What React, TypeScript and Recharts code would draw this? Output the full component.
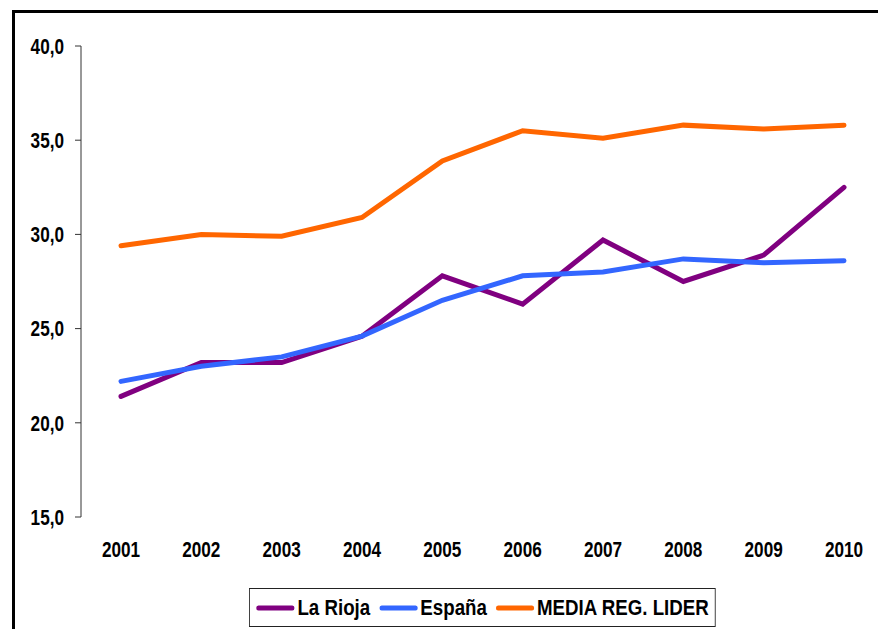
import { LineChart, Line, XAxis, YAxis, Legend } from 'recharts';

const years = ['2001', '2002', '2003', '2004', '2005', '2006', '2007', '2008', '2009', '2010'];
const laRioja = [21.4, 23.2, 23.2, 24.6, 27.8, 26.3, 29.7, 27.5, 28.9, 32.5];
const espana = [22.2, 23.0, 23.5, 24.6, 26.5, 27.8, 28.0, 28.7, 28.5, 28.6];
const mediaRegLider = [29.4, 30.0, 29.9, 30.9, 33.9, 35.5, 35.1, 35.8, 35.6, 35.8];
const yTicks = [15, 20, 25, 30, 35, 40];

const SERIES = [
  { key: 'laRioja', name: 'La Rioja', color: '#800080' },
  { key: 'espana', name: 'España', color: '#3366FF' },
  { key: 'media', name: 'MEDIA REG. LIDER', color: '#FF6600' },
];

const data = years.map((year, i) => ({
  year,
  laRioja: laRioja[i],
  espana: espana[i],
  media: mediaRegLider[i],
}));

// boundary ticks between categories (Excel style)
const boundaryTicks = [...years.map((_, i) => i), years.length];

const FONT = '"Liberation Sans", Arial, sans-serif';
const SQUEEZE = 0.78; // the original labels are a condensed bold sans

const fmt = (v: number) => v.toFixed(1).replace('.', ',');

const XTick = ({ x, y, payload }: any) => (
  <text
    transform={`translate(${x},${y}) scale(${SQUEEZE},1)`}
    textAnchor="middle"
    dy="0.71em"
    fontFamily={FONT}
    fontWeight="bold"
    fontSize={22}
    fill="#000"
  >
    {payload.value}
  </text>
);

const YTick = ({ x, y, payload }: any) => (
  <text
    transform={`translate(${x},${y}) scale(${SQUEEZE},1)`}
    textAnchor="end"
    dy="0.355em"
    fontFamily={FONT}
    fontWeight="bold"
    fontSize={22}
    fill="#000"
  >
    {fmt(payload.value)}
  </text>
);

const renderLegend = () => (
  <div
    style={{
      display: 'inline-flex',
      alignItems: 'center',
      border: '1px solid #222',
      height: 37,
      padding: '0 7px 0 7px',
      background: '#fff',
      fontFamily: FONT,
      fontWeight: 'bold',
      fontSize: 22,
      color: '#000',
      whiteSpace: 'nowrap',
      transform: 'scale(0.85,1)',
      transformOrigin: 'left top',
    }}
  >
    {SERIES.map((s, i) => (
      <span key={s.key} style={{ display: 'flex', alignItems: 'center', marginLeft: i ? 10 : 0 }}>
        <svg width={46} height={8} style={{ marginRight: 3 }}>
          <line x1={3} y1={4} x2={43} y2={4} stroke={s.color} strokeWidth={5} strokeLinecap="round" />
        </svg>
        <span>{s.name}</span>
      </span>
    ))}
  </div>
);

export default function App() {
  return (
    <div style={{ position: 'relative', width: 878, height: 621, overflow: 'hidden', background: '#fff' }}>
      <div
        style={{
          position: 'absolute',
          left: 4,
          top: 2,
          width: 1000,
          height: 1000,
          borderLeft: '3px solid #000',
          borderTop: '3px solid #000',
        }}
      />
      <div style={{ position: 'absolute', left: 0, top: 0 }}>
        <LineChart width={878} height={621} data={data} margin={{ top: 38, right: 2, bottom: 33, left: 13 }}>
          <XAxis
            xAxisId="grid"
            type="number"
            domain={[0, years.length]}
            ticks={boundaryTicks}
            tick={false}
            height={0}
            tickSize={6}
            axisLine={{ stroke: '#333' }}
            tickLine={{ stroke: '#333' }}
          />
          <XAxis
            xAxisId="cat"
            dataKey="year"
            height={40}
            padding={{ left: 40, right: 40 }}
            axisLine={false}
            tickLine={false}
            tickSize={6}
            tickMargin={18}
            tick={<XTick />}
            interval={0}
          />
          <YAxis
            width={60}
            domain={[15, 40]}
            ticks={yTicks}
            interval={0}
            tick={<YTick />}
            tickSize={6}
            tickMargin={11}
            axisLine={{ stroke: '#333' }}
            tickLine={{ stroke: '#333' }}
          />
          <Legend
            verticalAlign="bottom"
            content={renderLegend}
            wrapperStyle={{ position: 'absolute', left: 241, top: 580, bottom: 'auto', width: 'auto' }}
          />
          {SERIES.map((s) => (
            <Line
              key={s.key}
              xAxisId="cat"
              dataKey={s.key}
              name={s.name}
              stroke={s.color}
              strokeWidth={5}
              strokeLinecap="round"
              dot={false}
              activeDot={false}
              isAnimationActive={false}
            />
          ))}
        </LineChart>
      </div>
    </div>
  );
}
